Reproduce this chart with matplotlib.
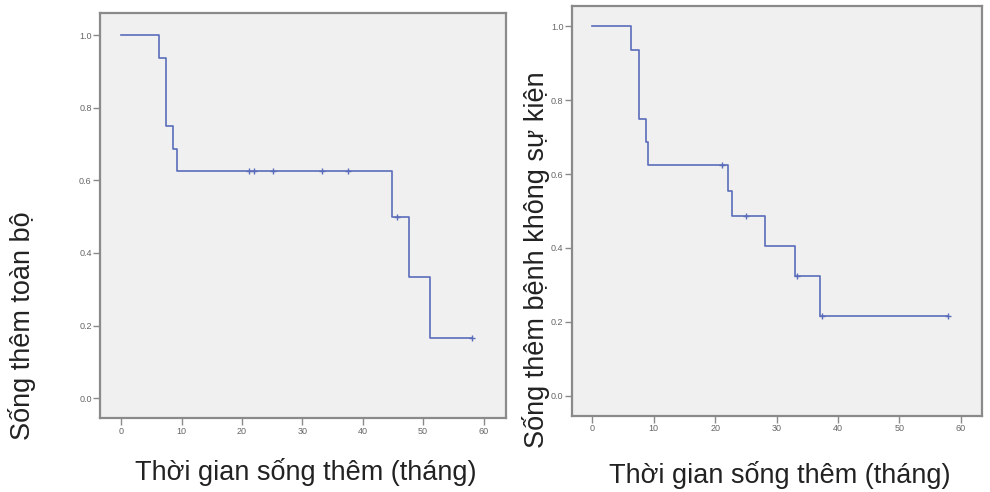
import matplotlib.pyplot as plt
import numpy as np

plt.rcParams["font.family"] = ["Liberation Sans", "DejaVu Sans"]

# overall survival (left panel)
os_time = [0, 6.2, 7.45, 8.55, 9.3, 44.8, 47.7, 51.2]
os_surv = [1.0, 0.9375, 0.75, 0.6875, 0.625, 0.5, 0.3333, 0.1667]
os_cens = [21.2, 22.0, 25.1, 33.3, 37.5, 45.6, 58.1]

# event-free survival (right panel)
efs_time = [0, 6.3, 7.6, 8.7, 9.0, 22.1, 22.8, 28.1, 33.0, 37.1]
efs_surv = [1.0, 0.9375, 0.75, 0.6875, 0.625, 0.5556, 0.4861, 0.4051, 0.3241, 0.2160]
efs_cens = [21.2, 25.0, 33.3, 37.4, 58.0]

xticks = [0, 10, 20, 30, 40, 50, 60]
yticks = [0.0, 0.2, 0.4, 0.6, 0.8, 1.0]

line_col = '#5a6cba'
frame_col = '#8a8a8a'


def km_panel(ax, t, s, cens):
    t = np.array(t)
    s = np.array(s)
    tt = np.append(t, max(cens))
    ss = np.append(s, s[-1])
    ax.step(tt, ss, where='post', color=line_col, lw=1.2)
    idx = np.searchsorted(t, cens, side='right') - 1
    ax.plot(cens, s[idx], ls='none', marker='+', ms=5, mew=1.0, color=line_col)
    ax.set_facecolor('#f0f0f0')
    for sp in ax.spines.values():
        sp.set_color(frame_col)
        sp.set_linewidth(1.6)
    ax.set_xticks(xticks)
    ax.set_yticks(yticks)
    ax.set_yticklabels(['%.1f' % v for v in yticks])
    ax.tick_params(length=5, width=1, color=frame_col, labelsize=6.5,
                   labelcolor='#666666', pad=1)


fig = plt.figure(figsize=(9.9, 4.92), dpi=100)

ax1 = fig.add_axes([0.101, 0.150, 0.410, 0.823])
km_panel(ax1, os_time, os_surv, os_cens)
ax1.set_xlim(-3.5, 63.7)
ax1.set_ylim(-0.055, 1.06)

ax2 = fig.add_axes([0.5775, 0.1545, 0.414, 0.833])
km_panel(ax2, efs_time, efs_surv, efs_cens)
ax2.set_xlim(-3.35, 63.4)
ax2.set_ylim(-0.055, 1.055)

fig.text(0.022, 0.339, 'Sống thêm toàn bộ', rotation=90, fontsize=19.5,
         ha='center', va='center', color='#222222')
fig.text(0.541, 0.472, 'Sống thêm bệnh không sự kiện', rotation=90, fontsize=19.5,
         ha='center', va='center', color='#222222')
fig.text(0.309, 0.04, 'Thời gian sống thêm (tháng)', fontsize=19.5,
         ha='center', va='center', color='#222222')
fig.text(0.788, 0.035, 'Thời gian sống thêm (tháng)', fontsize=19.5,
         ha='center', va='center', color='#222222')

fig.savefig('out.png', dpi=100)
